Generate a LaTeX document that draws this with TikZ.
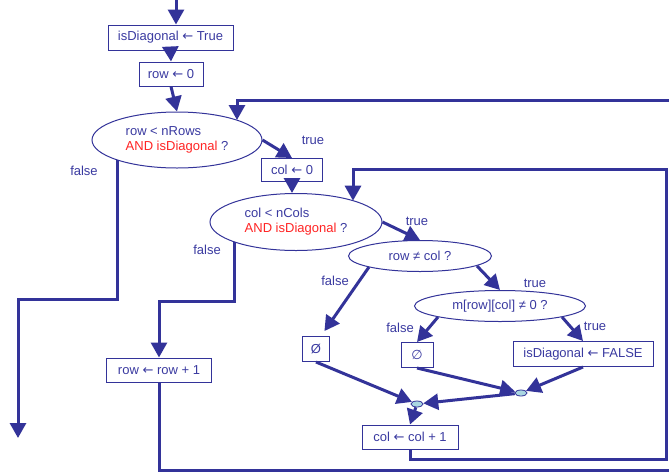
\documentclass[tikz,border=0pt]{standalone}
\usepackage{fontspec}
\setmainfont{Liberation Sans}
\newfontfamily\djv{DejaVu Sans}
\newcommand{\lar}{{\djv ←}}
\usetikzlibrary{arrows.meta,shapes.geometric,calc}
\definecolor{fc}{RGB}{51,51,153}
\definecolor{tc}{RGB}{58,58,160}
\definecolor{rc}{RGB}{255,35,35}
\definecolor{mc}{RGB}{170,215,225}
\begin{document}
\begin{tikzpicture}[x=1pt,y=-1pt,
  every node/.style={font=\fontsize{13}{15}\selectfont, text=tc},
  box/.style={draw=fc, line width=1pt, inner sep=0pt, minimum height=25pt},
  dec/.style={ellipse, draw=fc, line width=1pt, inner sep=0pt},
  merge/.style={ellipse, draw=fc, fill=mc, line width=0.8pt, minimum width=12pt, minimum height=6pt, inner sep=0pt},
  conn/.style={draw=fc, line width=3pt, -{Triangle[length=15pt,width=16pt]}}]
\useasboundingbox (0,0) rectangle (669,472);
\clip (0,0) rectangle (669,472);
% nodes
\node[box, minimum width=125pt] (init) at (170.5,37.5) {isDiagonal \lar{} True};
\node[box, minimum width=64pt, minimum height=24pt] (row0) at (171,74) {row \lar{} 0};
\node[dec, minimum width=170pt, minimum height=56pt, align=left] (c1) at (177,140) {row < nRows\\\textcolor{rc}{AND isDiagonal} ?};
\node[box, minimum width=61pt, minimum height=23pt] (col0) at (292,170) {col \lar{} 0};
\node[dec, minimum width=172pt, minimum height=57pt, align=left] (c2) at (296,222) {col < nCols\\\textcolor{rc}{AND isDiagonal} ?};
\node[dec, minimum width=143pt, minimum height=31pt] (c3) at (420,256) {row ≠ col ?};
\node[dec, minimum width=171pt, minimum height=31pt] (c4) at (500,306) {m[row][col] ≠ 0 ?};
\node[box, minimum width=27pt] (e1) at (316,349) {Ø};
\node[box, minimum width=32pt] (e2) at (417,355) {\djv ∅};
\node[box, minimum width=140pt] (setf) at (583,354) {isDiagonal \lar{} FALSE};
\node[merge] (m1) at (417,404) {};
\node[merge] (m2) at (521,393) {};
\node[box, minimum width=96pt, minimum height=24pt] (colinc) at (410,437) {col \lar{} col + 1};
\node[box, minimum width=105pt, minimum height=24pt] (rowinc) at (159,370) {row \lar{} row + 1};
% labels
\node (lf1) at (84,171) {false};
\node (lt1) at (313,140) {true};
\node (lf2) at (207,250) {false};
\node (lt2) at (417,221) {true};
\node (lf3) at (335,281) {false};
\node (lt3) at (535,283) {true};
\node (lf4) at (400,328) {false};
\node (lt4) at (595,326) {true};
% coordinates
\coordinate (start) at (176,0);
\coordinate (exit) at (18,438);
% connectors
\draw[conn] (start) -- (init.north -| start);
\draw[conn] (init.south) -- (row0.north);
\draw[conn] (row0.south) -- (c1.north);
\draw[conn] (rowinc.south) -- (159,470) -- (680,470) -- (680,100) -- (237,100) -- ($(c1.center)+(60,-20)$);
\draw[conn] (c1.east) -- (col0.north);
\draw[conn] ($(c1.center)+(-60,20)$) -- (117,299) -- (18,299) -- (exit);
\draw[conn] (col0.south) -- (col0.south |- c2.north);
\draw[conn] (colinc.south) -- (410,459) -- (666,459) -- (666,169) -- (353,169) -- ($(c2.center)+(57,-21.3)$);
\draw[conn] ($(c2.center)+(-62,20)$) -- (234,301) -- (159,301) -- (rowinc.north);
\draw[conn] (c2.east) -- (c3.north);
\draw[conn, shorten >=6pt] ($(c3.center)+(-51,11)$) -- ([xshift=5pt]e1.north);
\draw[conn] ($(c3.center)+(57,10)$) -- (c4.north);
\draw[conn] ($(c4.center)+(-62,11)$) -- (e2.north);
\draw[conn] ($(c4.center)+(62,11)$) -- (setf.north);
\draw[conn] (e1.south) -- (m1);
\draw[conn] (e2.south) -- (m2);
\draw[conn] (setf.south) -- (m2);
\draw[conn] (m2) -- (m1);
\draw[conn] (m1) -- (colinc.north);
\end{tikzpicture}
\end{document}
